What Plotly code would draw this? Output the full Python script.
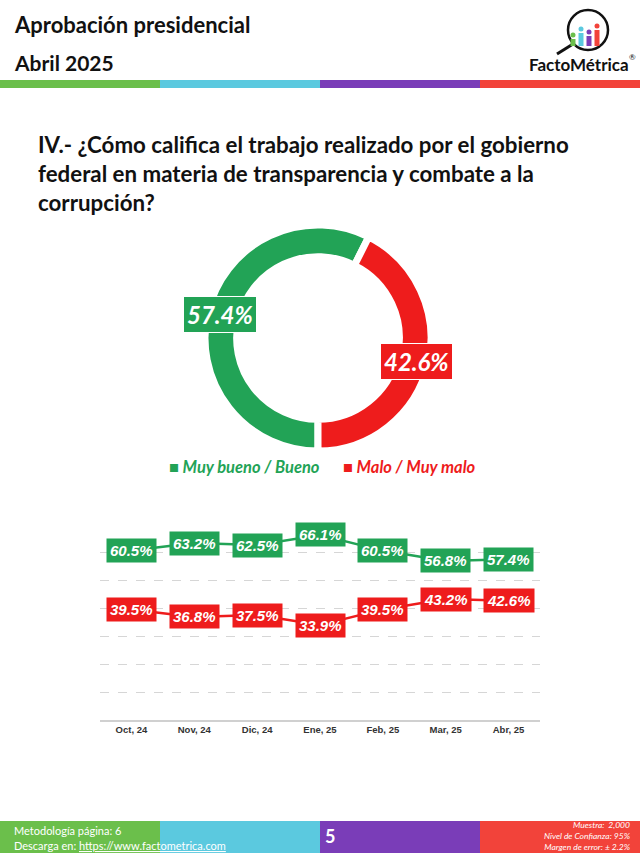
import math

import plotly.graph_objects as go

W, H = 640, 853

# donut data
donut_labels = ["Muy bueno / Bueno", "Malo / Muy malo"]
donut_values = [57.4, 42.6]

# trend data
months = ["Oct, 24", "Nov, 24", "Dic, 24", "Ene, 25", "Feb, 25", "Mar, 25", "Abr, 25"]
bueno = [60.5, 63.2, 62.5, 66.1, 60.5, 56.8, 57.4]
malo = [39.5, 36.8, 37.5, 33.9, 39.5, 43.2, 42.6]

GREEN = "#22a356"
RED = "#ee1c1c"
STRIPE = ["#6bbf4b", "#5bc9df", "#7a3db8", "#f2433a"]
FONT = "Lato"


def px(x):
    return x / W


def py(y):
    return 1 - y / H


def note(x, y, text, size, color="#111111", xanchor="left", family=FONT, **kw):
    return dict(
        x=px(x), y=py(y), xref="paper", yref="paper",
        xanchor=xanchor, yanchor="middle", text=text, showarrow=False,
        font=dict(family=family, size=size, color=color), **kw,
    )


fig = go.Figure()

# donut
pie_dom_x = [px(205), px(431)]
pie_dom_y = [py(451), py(225)]
fig.add_trace(
    go.Pie(
        labels=donut_labels,
        values=donut_values,
        hole=0.72,
        sort=False,
        direction="clockwise",
        rotation=180,
        marker=dict(colors=[GREEN, RED], line=dict(color="white", width=7)),
        textinfo="none",
        hoverinfo="label+percent",
        showlegend=False,
        domain=dict(x=pie_dom_x, y=pie_dom_y),
    )
)

# trend lines
for name, vals, col in [("Muy bueno / Bueno", bueno, GREEN), ("Malo / Muy malo", malo, RED)]:
    fig.add_trace(
        go.Scatter(
            x=months,
            y=vals,
            mode="lines",
            name=name,
            line=dict(color=col, width=2.5),
            showlegend=False,
        )
    )

annotations = []
shapes = []

# donut labels, placed at the middle angle of each slice
cx = (pie_dom_x[0] + pie_dom_x[1]) / 2 * W
cy = (1 - (pie_dom_y[0] + pie_dom_y[1]) / 2) * H
r_mid = 101
start = 180.0
total = sum(donut_values)
for val, col in zip(donut_values, [GREEN, RED]):
    span = val / total * 360
    mid = math.radians(start + span / 2)
    start += span
    lx = cx + r_mid * math.sin(mid)
    ly = cy - r_mid * math.cos(mid)
    annotations.append(note(lx, ly, f"<b><i>{val:.1f}%</i></b>", 24, "white", "center",
                            bgcolor=col, borderpad=3, bordercolor="white", borderwidth=1))

# line labels
for vals, col in [(bueno, GREEN), (malo, RED)]:
    for m, v in zip(months, vals):
        annotations.append(dict(
            x=m, y=v, xref="x", yref="y", xanchor="center", yanchor="middle",
            text=f"<b><i>{v:.1f}%</i></b>", showarrow=False,
            font=dict(family="Arial", size=15, color="white"),
            bgcolor=col, borderpad=3,
        ))

# legend of donut
annotations.append(note(167, 467, "<b><i>■ Muy bueno / Bueno</i></b>", 16.5, GREEN))
annotations.append(note(341, 467, "<b><i>■ Malo / Muy malo</i></b>", 16.5, RED))

# header
annotations.append(note(12, 25, "<b>Aprobación presidencial</b>", 22))
annotations.append(note(12, 62, "<b>Abril 2025</b>", 21))
annotations.append(note(
    36, 174,
    "<b>IV.- ¿Cómo califica el trabajo realizado por el gobierno<br>"
    "federal en materia de transparencia y combate a la<br>corrupción?</b>",
    22.3, align="left",
))

# logo
annotations.append(note(579, 64, "<b>FactoMétrica</b>", 17, xanchor="center"))
annotations.append(note(632, 57, "®", 8, xanchor="center"))
shapes.append(dict(type="circle", xref="paper", yref="paper",
                   x0=px(568), x1=px(608), y0=py(50), y1=py(10),
                   fillcolor="white", line=dict(color="#111111", width=2.5)))
shapes.append(dict(type="line", xref="paper", yref="paper",
                   x0=px(573), y0=py(44), x1=px(557), y1=py(54),
                   line=dict(color="#111111", width=3)))
for bx, top, col in [(573, 35, STRIPE[0]), (581, 29, STRIPE[1]), (589, 32, STRIPE[2]), (597, 26, STRIPE[3])]:
    shapes.append(dict(type="rect", xref="paper", yref="paper",
                       x0=px(bx - 2.5), x1=px(bx + 2.5), y0=py(46), y1=py(top + 4),
                       fillcolor=col, line=dict(width=0)))
    shapes.append(dict(type="circle", xref="paper", yref="paper",
                       x0=px(bx - 2.5), x1=px(bx + 2.5), y0=py(top + 2.5), y1=py(top - 2.5),
                       fillcolor=col, line=dict(width=0)))

# colour stripes (top and footer)
for i, col in enumerate(STRIPE):
    shapes.append(dict(type="rect", xref="paper", yref="paper",
                       x0=i * 0.25, x1=(i + 1) * 0.25, y0=py(88), y1=py(80),
                       fillcolor=col, line=dict(width=0)))
    shapes.append(dict(type="rect", xref="paper", yref="paper",
                       x0=i * 0.25, x1=(i + 1) * 0.25, y0=0, y1=py(821),
                       fillcolor=col, line=dict(width=0), layer="below"))

# footer text
annotations.append(note(12, 830, "Metodología página: 6", 11, "white"))
annotations.append(note(12, 845, "Descarga en: <u>https://www.factometrica.com</u>", 11, "white"))
annotations.append(note(330, 836, "<b>5</b>", 18, "white", "center"))
annotations.append(note(
    633, 836,
    "<i>Muestra:  2,000<br>Nivel de Confianza: 95%<br>Margen de error: ± 2.2%</i>",
    8.5, "white", "right", align="right",
))

fig.update_layout(
    width=W,
    height=H,
    margin=dict(l=0, r=0, t=0, b=0),
    paper_bgcolor="white",
    plot_bgcolor="white",
    font=dict(family=FONT),
    xaxis=dict(
        domain=[px(100), px(540)],
        type="category",
        range=[-0.5, 6.5],
        showgrid=False,
        showline=True,
        linecolor="#d0d0d0",
        linewidth=1.5,
        ticks="",
        tickfont=dict(family="Arial", size=9.5, color="#333333", weight="bold"),
        fixedrange=True,
    ),
    yaxis=dict(
        domain=[py(720), py(524)],
        range=[0, 70],
        dtick=10,
        showticklabels=False,
        showgrid=True,
        gridcolor="#d6d6d6",
        griddash="dash",
        gridwidth=1,
        zeroline=False,
        fixedrange=True,
    ),
    annotations=annotations,
    shapes=shapes,
)

fig.write_html(
    "out.html",
    config={"displayModeBar": False},
    post_script="document.body.style.margin='0';",
)
